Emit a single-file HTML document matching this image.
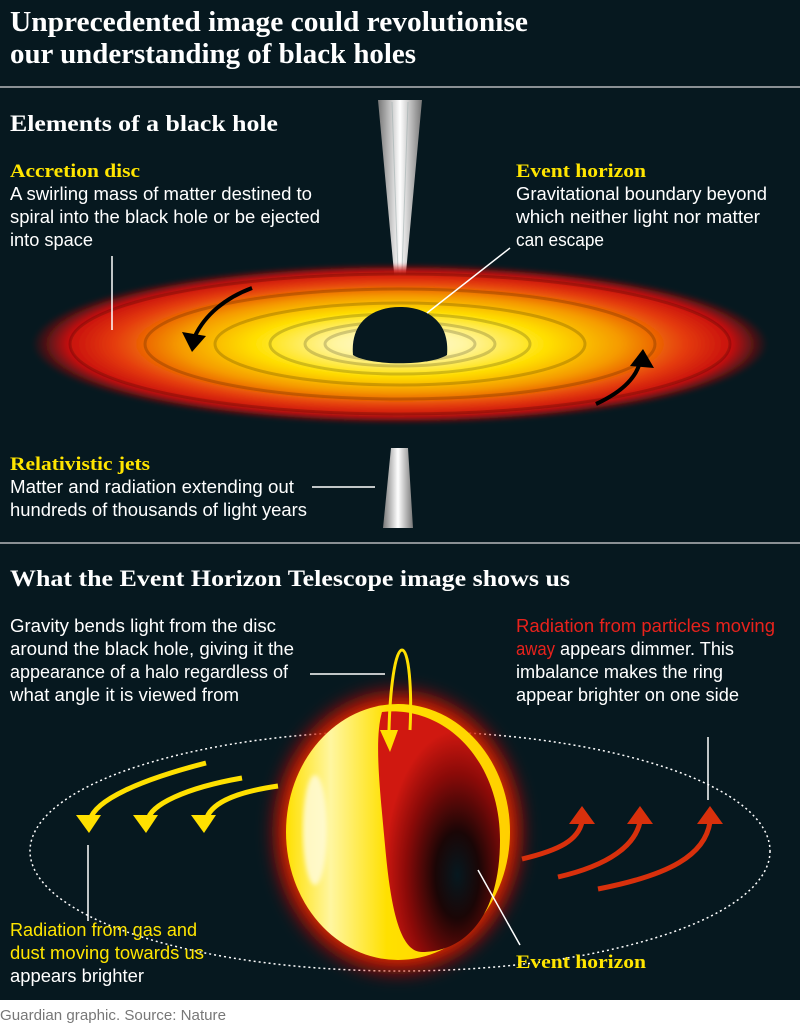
<!DOCTYPE html>
<html><head><meta charset="utf-8"><style>
html,body{margin:0;padding:0;width:800px;height:1028px;background:#fff;overflow:hidden}
svg{display:block}
.h{font-family:"Liberation Serif",serif;font-weight:bold;fill:#fff}
.t{font-family:"Liberation Sans",sans-serif;font-size:18px;fill:#fff}
.l{font-family:"Liberation Serif",serif;font-weight:bold;font-size:19px;fill:#ffe500}
.y{fill:#ffe500}
.r{fill:#e8221c}
</style></head><body>
<svg width="800" height="1028" viewBox="0 0 800 1028" xmlns="http://www.w3.org/2000/svg">
<defs>
<radialGradient id="disc" cx="50%" cy="50%" r="50%">
<stop offset="0" stop-color="#fffbe0"/>
<stop offset="0.18" stop-color="#fff5a0"/>
<stop offset="0.4" stop-color="#ffe000"/>
<stop offset="0.6" stop-color="#f59a00"/>
<stop offset="0.78" stop-color="#e43a0a"/>
<stop offset="0.9" stop-color="#c8100e"/>
<stop offset="1" stop-color="#c8100e" stop-opacity="0"/>
</radialGradient>
<linearGradient id="jet" x1="0" x2="1" y1="0" y2="0">
<stop offset="0" stop-color="#777"/><stop offset="0.5" stop-color="#fff"/><stop offset="1" stop-color="#777"/>
</linearGradient>
<radialGradient id="glow" cx="50%" cy="50%" r="50%">
<stop offset="0.72" stop-color="#f07000"/>
<stop offset="0.86" stop-color="#c81008"/>
<stop offset="1" stop-color="#c01008" stop-opacity="0"/>
</radialGradient>
<radialGradient id="inner" cx="65%" cy="68%" r="60%">
<stop offset="0" stop-color="#06181f"/>
<stop offset="0.3" stop-color="#1a0606"/>
<stop offset="0.7" stop-color="#8a0a08"/>
<stop offset="1" stop-color="#d01810"/>
</radialGradient>
<linearGradient id="ringg" x1="0" x2="1">
<stop offset="0" stop-color="#ffe000"/><stop offset="0.2" stop-color="#fff6a0"/><stop offset="0.45" stop-color="#ffe000"/><stop offset="1" stop-color="#ffd000"/>
</linearGradient>
<filter id="bl"><feGaussianBlur stdDeviation="7"/></filter>
<filter id="bl2"><feGaussianBlur stdDeviation="2"/></filter>
</defs>
<rect width="800" height="1000" fill="#06181f"/>
<text class="h" x="10" y="31" font-size="28" textLength="518" lengthAdjust="spacingAndGlyphs">Unprecedented image could revolutionise</text>
<text class="h" x="10" y="63" font-size="28" textLength="406" lengthAdjust="spacingAndGlyphs">our understanding of black holes</text>
<rect x="0" y="86" width="800" height="2" fill="#8a9094"/>
<text class="h" x="10" y="131" font-size="23" textLength="268" lengthAdjust="spacingAndGlyphs">Elements of a black hole</text>
<text class="l" x="10" y="177" textLength="130" lengthAdjust="spacingAndGlyphs">Accretion disc</text>
<text class="t" x="10" y="200" textLength="302" lengthAdjust="spacingAndGlyphs">A swirling mass of matter destined to</text>
<text class="t" x="10" y="223" textLength="310" lengthAdjust="spacingAndGlyphs">spiral into the black hole or be ejected</text>
<text class="t" x="10" y="246" textLength="83" lengthAdjust="spacingAndGlyphs">into space</text>
<text class="l" x="516" y="177" textLength="130" lengthAdjust="spacingAndGlyphs">Event horizon</text>
<text class="t" x="516" y="200" textLength="251" lengthAdjust="spacingAndGlyphs">Gravitational boundary beyond</text>
<text class="t" x="516" y="223" textLength="244" lengthAdjust="spacingAndGlyphs">which neither light nor matter</text>
<text class="t" x="516" y="246" textLength="88" lengthAdjust="spacingAndGlyphs">can escape</text>
<!-- jet top -->
<path d="M378 100 L422 100 L403 305 L397 305 Z" fill="url(#jet)"/>
<g stroke="#9aa" stroke-width="1" opacity="0.5"><line x1="392" y1="102" x2="399" y2="300"/><line x1="408" y1="102" x2="401" y2="300"/></g>
<!-- disc -->
<ellipse cx="400" cy="344" rx="368" ry="80" fill="url(#disc)" filter="url(#bl2)"/>
<g fill="none" stroke="#000" stroke-opacity="0.18" stroke-width="3">
<ellipse cx="400" cy="344" rx="330" ry="70"/>
<ellipse cx="400" cy="344" rx="255" ry="55"/>
<ellipse cx="400" cy="344" rx="185" ry="41"/>
<ellipse cx="400" cy="344" rx="130" ry="30"/>
<ellipse cx="400" cy="344" rx="95" ry="22"/>
<ellipse cx="400" cy="344" rx="75" ry="17"/>
</g>
<path d="M353 355 C350 320 375 307 400 307 C425 307 450 320 447 355 C430 366 370 366 353 355 Z" fill="#06181f"/>
<line x1="510" y1="248" x2="427" y2="313" stroke="#fff" stroke-width="1.5"/>
<line x1="112" y1="256" x2="112" y2="330" stroke="#fff" stroke-width="1.5"/>
<!-- black arrows -->
<path d="M252 288 C225 298 205 315 195 336" fill="none" stroke="#000" stroke-width="4"/>
<path d="M182 332 L192 352 L206 336 Z" fill="#000"/>
<path d="M596 404 C622 392 636 378 640 362" fill="none" stroke="#000" stroke-width="4"/>
<path d="M630 366 L643 349 L654 368 Z" fill="#000"/>
<!-- jet bottom -->
<path d="M391 448 L408 448 L413 528 L383 528 Z" fill="url(#jet)"/>
<text class="l" x="10" y="470" textLength="140" lengthAdjust="spacingAndGlyphs">Relativistic jets</text>
<text class="t" x="10" y="493" textLength="284" lengthAdjust="spacingAndGlyphs">Matter and radiation extending out</text>
<text class="t" x="10" y="516" textLength="297" lengthAdjust="spacingAndGlyphs">hundreds of thousands of light years</text>
<line x1="312" y1="487" x2="375" y2="487" stroke="#fff" stroke-width="1.5"/>
<rect x="0" y="542" width="800" height="2" fill="#8a9094"/>
<text class="h" x="10" y="586" font-size="23" textLength="560" lengthAdjust="spacingAndGlyphs">What the Event Horizon Telescope image shows us</text>
<text class="t" x="10" y="632" textLength="266" lengthAdjust="spacingAndGlyphs">Gravity bends light from the disc</text>
<text class="t" x="10" y="655" textLength="284" lengthAdjust="spacingAndGlyphs">around the black hole, giving it the</text>
<text class="t" x="10" y="678" textLength="278" lengthAdjust="spacingAndGlyphs">appearance of a halo regardless of</text>
<text class="t" x="10" y="701" textLength="229" lengthAdjust="spacingAndGlyphs">what angle it is viewed from</text>
<text class="t r" x="516" y="632" textLength="259" lengthAdjust="spacingAndGlyphs">Radiation from particles moving</text>
<text class="t r" x="516" y="655" textLength="39" lengthAdjust="spacingAndGlyphs">away</text>
<text class="t" x="560" y="655" textLength="174" lengthAdjust="spacingAndGlyphs">appears dimmer. This</text>
<text class="t" x="516" y="678" textLength="207" lengthAdjust="spacingAndGlyphs">imbalance makes the ring</text>
<text class="t" x="516" y="701" textLength="223" lengthAdjust="spacingAndGlyphs">appear brighter on one side</text>
<line x1="310" y1="674" x2="385" y2="674" stroke="#fff" stroke-width="1.5"/>
<!-- dotted ellipse -->
<ellipse cx="400" cy="851" rx="370" ry="120" fill="none" stroke="#fff" stroke-width="1.5" stroke-dasharray="2 3"/>
<!-- halo -->
<ellipse cx="398" cy="832" rx="132" ry="150" fill="url(#glow)" filter="url(#bl)"/>
<ellipse cx="398" cy="832" rx="112" ry="128" fill="url(#ringg)"/>
<path d="M382 712 C445 705 500 760 500 840 C500 920 462 952 422 952 C398 952 390 900 385 845 C380 790 374 740 382 712 Z" fill="url(#inner)"/>
<ellipse cx="315" cy="830" rx="12" ry="55" fill="#fffbd8" opacity="0.85" filter="url(#bl2)"/>
<!-- yellow loop arrow -->
<path d="M389 730 C390 690 395 650 402 650 C409 650 412 690 410 730" fill="none" stroke="#ffe000" stroke-width="3"/>
<path d="M380 730 L390 752 L398 730 Z" fill="#ffe000"/>
<!-- yellow arrows -->
<g fill="none" stroke="#ffe000" stroke-width="5">
<path d="M206 763 C140 780 95 800 90 820"/>
<path d="M242 778 C185 788 150 805 148 820"/>
<path d="M278 786 C230 793 210 805 206 820"/>
</g>
<g fill="#ffe000">
<path d="M76 815 L101 815 L89 833 Z"/>
<path d="M133 815 L158 815 L146 833 Z"/>
<path d="M191 815 L216 815 L204 833 Z"/>
</g>
<!-- red arrows -->
<g fill="none" stroke="#d8300c" stroke-width="5">
<path d="M522 859 C560 850 578 840 582 822"/>
<path d="M558 877 C610 865 635 845 640 822"/>
<path d="M598 889 C670 875 705 855 710 822"/>
</g>
<g fill="#d8300c">
<path d="M569 824 L595 824 L582 806 Z"/>
<path d="M627 824 L653 824 L640 806 Z"/>
<path d="M697 824 L723 824 L710 806 Z"/>
</g>
<line x1="88" y1="845" x2="88" y2="921" stroke="#fff" stroke-width="1.5"/>
<line x1="708" y1="737" x2="708" y2="800" stroke="#fff" stroke-width="1.5"/>
<line x1="478" y1="870" x2="520" y2="945" stroke="#fff" stroke-width="1.5"/>
<text class="t y" x="10" y="936" textLength="187" lengthAdjust="spacingAndGlyphs">Radiation from gas and</text>
<text class="t y" x="10" y="959" textLength="194" lengthAdjust="spacingAndGlyphs">dust moving towards us</text>
<text class="t" x="10" y="982" textLength="134" lengthAdjust="spacingAndGlyphs">appears brighter</text>
<text class="l" x="516" y="968" textLength="130" lengthAdjust="spacingAndGlyphs">Event horizon</text>
<text x="0" y="1020" textLength="226" lengthAdjust="spacingAndGlyphs" style="font-family:'Liberation Sans',sans-serif;font-size:15px;fill:#777">Guardian graphic. Source: Nature</text>
</svg>
</body></html>
